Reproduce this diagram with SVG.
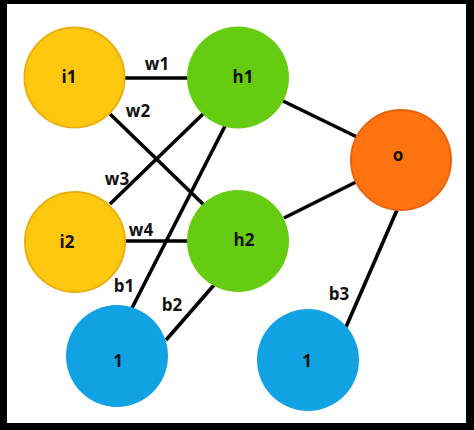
<svg xmlns="http://www.w3.org/2000/svg" width="474" height="430" viewBox="0 0 474 430">
<style>
.lbl{font-family:"Open Sans","Liberation Sans",sans-serif;font-weight:bold;font-size:17px;fill:#111;text-anchor:middle}
.edge{stroke:#000;stroke-width:3.6;fill:none}
.in{fill:#FFC80E;stroke:#E8B010;stroke-width:2}
.hid{fill:#66CC12}
.out{fill:#FF7210;stroke:#E86510;stroke-width:2}
.bias{fill:#10A2E2}
</style>
<rect x="0" y="0" width="474" height="430" fill="#000"/>
<rect x="7" y="4" width="459" height="419" fill="#fff"/>
<g id="connectors">
<line class="edge" x1="124" y1="78" x2="189" y2="78"/>
<line class="edge" x1="110" y1="114" x2="205" y2="206"/>
<line class="edge" x1="110" y1="204" x2="204" y2="113"/>
<line class="edge" x1="124" y1="241" x2="189" y2="241"/>
<line class="edge" x1="132" y1="308" x2="225" y2="126"/>
<line class="edge" x1="166" y1="340" x2="214" y2="285"/>
<line class="edge" x1="283" y1="101" x2="357" y2="137"/>
<line class="edge" x1="284" y1="218" x2="356" y2="182"/>
<line class="edge" x1="397" y1="210" x2="346" y2="327"/>
<text class="lbl" x="157" y="70">w1</text>
<text class="lbl" x="138" y="117">w2</text>
<text class="lbl" x="117" y="185">w3</text>
<text class="lbl" x="141" y="236">w4</text>
<text class="lbl" x="124" y="292">b1</text>
<text class="lbl" x="172" y="311">b2</text>
<text class="lbl" x="339" y="300">b3</text>
</g>
<g id="i1"><circle class="in" cx="74.5" cy="77.5" r="50"/><text class="lbl" x="69" y="83">i1</text></g>
<g id="h1"><circle class="hid" cx="238" cy="77.5" r="51"/><text class="lbl" x="243" y="83">h1</text></g>
<g id="i2"><circle class="in" cx="75" cy="242" r="50"/><text class="lbl" x="67" y="248">i2</text></g>
<g id="h2"><circle class="hid" cx="238" cy="241" r="51"/><text class="lbl" x="244" y="246">h2</text></g>
<g id="o"><circle class="out" cx="401" cy="160" r="50"/><text class="lbl" x="398" y="161">o</text></g>
<g id="bias1"><circle class="bias" cx="117" cy="356" r="51"/><text class="lbl" x="118" y="367">1</text></g>
<g id="bias2"><circle class="bias" cx="308" cy="360" r="51"/><text class="lbl" x="307" y="367">1</text></g>
</svg>
